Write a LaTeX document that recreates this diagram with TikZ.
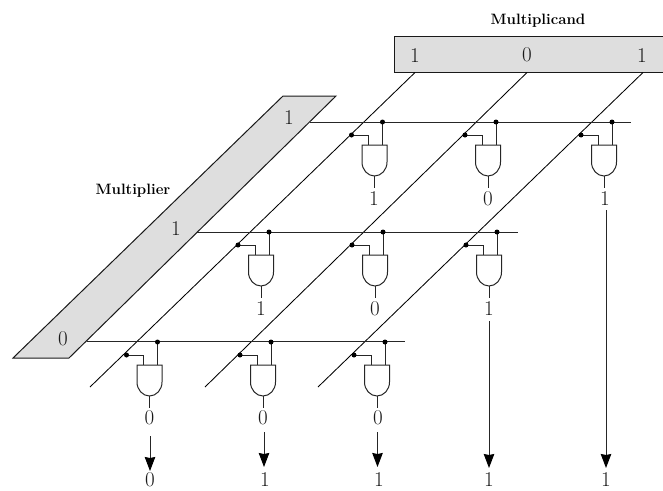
\documentclass[tikz,border=0pt]{standalone}
\usetikzlibrary{arrows.meta}
\newcommand{\andgate}[3]{% name, centre x, top y
  \coordinate (#1-in1) at (#2-6,#3);
  \coordinate (#1-in2) at (#2+8,#3);
  \coordinate (#1-out) at (#2,#3+31);
  \coordinate (#1-end) at (#2,#3+43);
  \coordinate (#1-bus) at (#2+8,#3-23);
  \coordinate (#1-tap) at (#2-23,#3-10);
  \draw[wire,fill=white] (#2-12.5,#3) -- (#2+12.5,#3) -- (#2+12.5,#3+17)
     arc[start angle=0,end angle=180,x radius=12.5,y radius=14] -- cycle;
  \draw[wire] (#1-out) -- (#1-end);
  \draw[wire] (#1-bus) -- (#1-in2);
  \draw[wire] (#1-tap) -| (#1-in1);
  \node[dotmark] at (#1-bus) {};
  \node[dotmark] at (#1-tap) {};
}
\tikzset{
  wire/.style={line width=1pt,draw=black!85},
  diag/.style={line width=0.85pt,draw=black},
  reg/.style={line width=1pt,draw=black!90,fill=black!13},
  dotmark/.style={circle,fill=black,inner sep=0pt,minimum size=5pt},
  digit/.style={inner sep=0pt,font=\fontsize{21}{24}\selectfont,text=black!90},
  head/.style={inner sep=0pt,font=\fontsize{15}{18}\selectfont\bfseries},
  arrowline/.style={line width=1pt,draw=black!85,-{Stealth[length=14pt,width=10.5pt,inset=1pt,color=black]}}
}
\begin{document}
\begin{tikzpicture}[x=1pt,y=-1pt]
\useasboundingbox (0,0) rectangle (663,490);
% registers
\draw[reg] (394,36) -- (670,36) -- (670,72.5) -- (394,72.5) -- cycle;
\draw[reg] (13,358) -- (69,358) -- (336,96) -- (283,96) -- cycle;
\node[head] (mcand) at (538,21) {Multiplicand};
\node[head] (mplier) at (133,191) {Multiplier};
\node[digit] (a2) at (415,55.5) {1};
\node[digit] (a1) at (527,55) {0};
\node[digit] (a0) at (642,55.5) {1};
\node[digit] (b0) at (289,118) {1};
\node[digit] (b1) at (176,229) {1};
\node[digit] (b2) at (63,339) {0};
% free ends
\coordinate (a2t) at (415,72.5); \coordinate (a1t) at (527,72.5); \coordinate (a0t) at (643,72.5);
\coordinate (a2e) at (90,387); \coordinate (a1e) at (205,387); \coordinate (a0e) at (318,387);
\draw[diag] (a2t) -- (a2e);
\draw[diag] (a1t) -- (a1e);
\draw[diag] (a0t) -- (a0e);
\coordinate (r0s) at (310,122); \coordinate (r0e) at (631,122);
\coordinate (r1s) at (197,232); \coordinate (r1e) at (518,232);
\coordinate (r2s) at (87,341); \coordinate (r2e) at (405,341);
\draw[wire] (r0s) -- (r0e);
\draw[wire] (r1s) -- (r1e);
\draw[wire] (r2s) -- (r2e);
% gates
\andgate{g00}{374.5}{145}
\andgate{g01}{488}{145}
\andgate{g02}{604}{145}
\andgate{g10}{261}{255}
\andgate{g11}{375}{255}
\andgate{g12}{489}{255}
\andgate{g20}{149.5}{365}
\andgate{g21}{263}{365}
\andgate{g22}{377}{365}
% gate output values
\node[digit] (o00) at (374,199) {1};
\node[digit] (o01) at (488,199) {0};
\node[digit] (o02) at (605,199) {1};
\node[digit] (o10) at (261,309) {1};
\node[digit] (o11) at (375,309) {0};
\node[digit] (o12) at (489,309) {1};
\node[digit] (o20) at (149.5,418) {0};
\node[digit] (o21) at (263,418) {0};
\node[digit] (o22) at (378,418) {0};
% result
\node[digit] (r0) at (150,480) {0};
\node[digit] (r1) at (265,480) {1};
\node[digit] (r2) at (379,480) {1};
\node[digit] (r3) at (489,480) {1};
\node[digit] (r4) at (606,480) {1};
\coordinate (s0) at (150,436); \coordinate (t0) at (150,471);
\coordinate (s1) at (264,432); \coordinate (t1) at (264,467);
\coordinate (s2) at (377.5,432); \coordinate (t2) at (377.5,467);
\coordinate (s3) at (489,321); \coordinate (t3) at (489,468);
\coordinate (s4) at (606,210); \coordinate (t4) at (606,468);
\draw[arrowline] (s0) -- (t0);
\draw[arrowline] (s1) -- (t1);
\draw[arrowline] (s2) -- (t2);
\draw[arrowline] (s3) -- (t3);
\draw[arrowline] (s4) -- (t4);
\end{tikzpicture}
\end{document}
